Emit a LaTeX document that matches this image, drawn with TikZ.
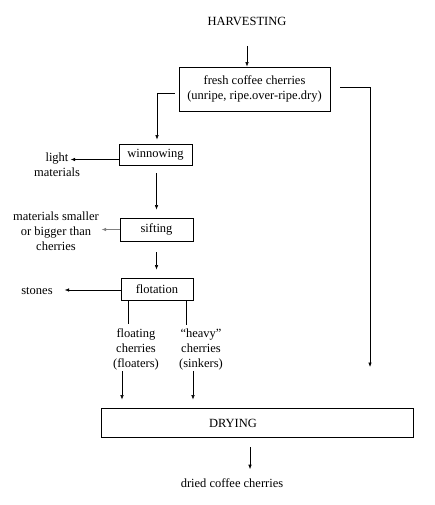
\documentclass[tikz,border=0pt]{standalone}
\usepackage{fontspec}
\setmainfont{Liberation Serif}
\usetikzlibrary{arrows.meta}

\begin{document}
\begin{tikzpicture}[x=1pt,y=-1pt,>={Latex[length=4.5pt,width=3.5pt]},
    font=\fontsize{12.5}{15}\selectfont,line width=0.6pt,
    stepbox/.style={draw,line width=0.8pt,inner sep=0pt,align=center},
    note/.style={align=center,inner sep=1pt}]
  \useasboundingbox (0,0) rectangle (434,505);
  % ---------------- boxes
  \node (harv) at (247,21) {HARVESTING};
  \node[stepbox,minimum width=151pt,minimum height=44pt] (fresh) at (254.5,89)
     {fresh coffee cherries\\(unripe, ripe.over-ripe.dry)};
  \node[stepbox,minimum width=73pt,minimum height=21pt] (winnow) at (155.5,154.5) {winnowing};
  \node[stepbox,minimum width=73pt,minimum height=23pt] (sift) at (156.5,229.5) {sifting};
  \node[stepbox,minimum width=72pt,minimum height=22pt] (flot) at (157,289) {flotation};
  \node[stepbox,minimum width=312pt,minimum height=29pt] (drying) at (257,422.5) {};
  \node (dryingtext) at (233,423) {DRYING};
  % ---------------- side products
  \node[note] (light) at (57,164.5) {light\\materials};
  \node[note] (smaller) at (56,231) {materials smaller\\or bigger than\\cherries};
  \node[note] (stones) at (37,291) {stones};
  \node[note] (floating) at (136,349) {floating\\cherries\\(floaters)};
  \node[note] (heavy) at (201,349) {``heavy''\\cherries\\(sinkers)};
  \node[note] (dried) at (232,483) {dried coffee cherries};
  \coordinate (bypass) at (370,367);
  % ---------------- connectors
  \draw[->,shorten <=17pt] (harv.south) -- (harv.south |- fresh.north);
  \draw[->,shorten >=4pt] ([shift={(-4,4)}]fresh.west) -| ([xshift=1.5pt]winnow.north);
  \draw[->] ([shift={(10,-2)}]fresh.east) -| (bypass);
  \draw[->] ([yshift=-5pt]winnow.west) -- ++(-48,0);
  \draw[->,shorten <=8pt,shorten >=8pt] ([xshift=1pt]winnow.south) -- ([xshift=1pt]winnow.south |- sift.north);
  \draw[->,gray] (sift.west) -- ++(-18,0);
  \draw[->,shorten <=11pt,shorten >=8pt] (sift.south) -- (sift.south |- flot.north);
  \draw[->] ([yshift=-1pt]flot.west) -- ++(-56,0);
  \draw ([xshift=-29pt]flot.south) -- ++(0,24);
  \draw ([xshift=29pt]flot.south) -- ++(0,25);
  \draw[->,shorten >=8pt] ([xshift=-14pt]floating.south) -- ([xshift=-14pt]floating.south |- drying.north);
  \draw[->,shorten >=8pt] ([xshift=-8pt]heavy.south) -- ([xshift=-8pt]heavy.south |- drying.north);
  \draw[->,shorten <=10pt,shorten >=8pt] (drying.south -| 250,0) -- (dried.north -| 250,0);
\end{tikzpicture}
\end{document}
